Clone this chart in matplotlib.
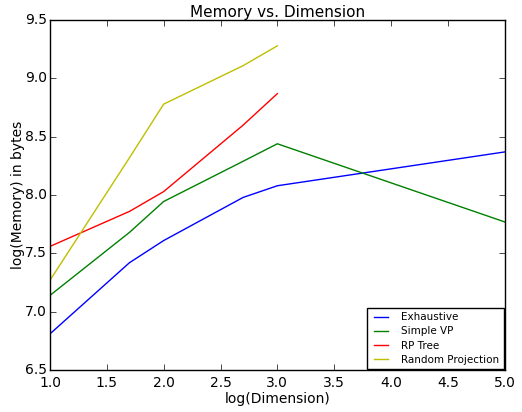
import numpy as np
import matplotlib
matplotlib.use("Agg")
import matplotlib.pyplot as plt

plt.style.use("classic")

# log10 of dimension
dims = [1.0, 1.699, 2.0, 2.699, 3.0, 5.0]

exhaustive = [6.81, 7.42, 7.61, 7.98, 8.08, 8.37]
simple_vp = [7.14, 7.68, 7.945, 8.29, 8.44, 7.77]
rp_tree = [7.56, 7.86, 8.03, 8.60, 8.87]
random_proj = [7.27, 8.32, 8.78, 9.11, 9.28]

fig = plt.figure(figsize=(5.22, 4.12), dpi=100, facecolor="white")
ax = fig.add_axes([0.0958, 0.102, 0.871, 0.849])

ax.plot(dims, exhaustive, color="b", label="Exhaustive")
ax.plot(dims, simple_vp, color="g", label="Simple VP")
ax.plot(dims[:5], rp_tree, color="r", label="RP Tree")
ax.plot(dims[:5], random_proj, color="y", label="Random Projection")

ax.set_xlim(1.0, 5.0)
ax.set_ylim(6.5, 9.5)
ax.set_xticks(np.arange(1.0, 5.01, 0.5))
ax.set_yticks(np.arange(6.5, 9.51, 0.5))
ax.tick_params(labelsize=10)
ax.tick_params(axis="y", pad=2)

ax.set_title("Memory vs. Dimension", fontsize=11, pad=2)
ax.set_xlabel("log(Dimension)", fontsize=10, labelpad=2)
ax.set_ylabel("log(Memory) in bytes", fontsize=10, labelpad=0)

ax.legend(loc="lower right", fontsize=7.5, borderaxespad=0.1,
          handlelength=1.9, handletextpad=1.0, labelspacing=0.4)

fig.savefig("out.png", dpi=100, facecolor="white")
